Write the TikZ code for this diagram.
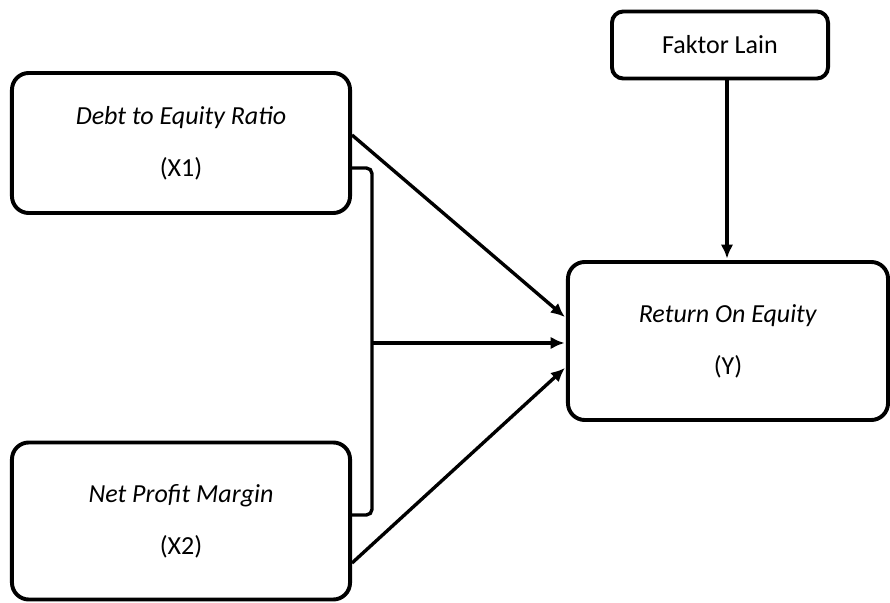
\documentclass[tikz,border=0pt]{standalone}
\usepackage{fontspec}
\setmainfont{Carlito}
\usepackage{tikz}
\usetikzlibrary{arrows.meta,positioning,calc}
\definecolor{ink}{HTML}{000000}

\begin{document}
\begin{tikzpicture}[x=0.025cm,y=-0.025cm,font=\fontsize{18.5}{22}\selectfont,
  varbox/.style={draw=ink,line width=2.8pt,rounded corners=12pt,align=center,inner sep=0pt},
  link/.style={draw=ink,line width=2.4pt,-{Latex[length=10pt,width=9pt]},shorten >=1pt}]
  \useasboundingbox (0,0) rectangle (890,603);
  \node[varbox,minimum width=8.45cm,minimum height=3.5cm] (x1) at (181,143) {\textit{Debt to Equity Ratio}\\[0.53cm](X1)};
  \node[varbox,minimum width=8.45cm,minimum height=3.925cm] (x2) at (181,521) {\textit{Net Profit Margin}\\[0.53cm](X2)};
  \node[varbox,minimum width=8cm,minimum height=3.95cm] (roe) at (728,341) {\textit{Return On Equity}\\[0.53cm](Y)};
  \node[varbox,rounded corners=8pt,minimum width=5.4cm,minimum height=1.675cm] (lain) at (720,45) {Faktor Lain};
  % bracket joining X1 and X2
  \coordinate (bt) at (372,168);
  \coordinate (bb) at (372,515);
  \coordinate (bm) at (372,343);
  \coordinate (lx) at (727,0);
  \draw[ink,line width=2.4pt,rounded corners=4pt] (x1.east |- bt) -- (bt) -- (bb) -- (x2.east |- bb);
  \draw[link] (bm) -- (roe.west |- bm);
  \draw[link] ([yshift=0.2cm]x1.east) -- ([yshift=0.575cm]roe.west);
  \draw[link] ([yshift=-1.05cm]x2.east) -- ([yshift=-0.65cm]roe.west);
  \draw[link] (lain.south -| lx) -- (roe.north -| lx);
\end{tikzpicture}
\end{document}
